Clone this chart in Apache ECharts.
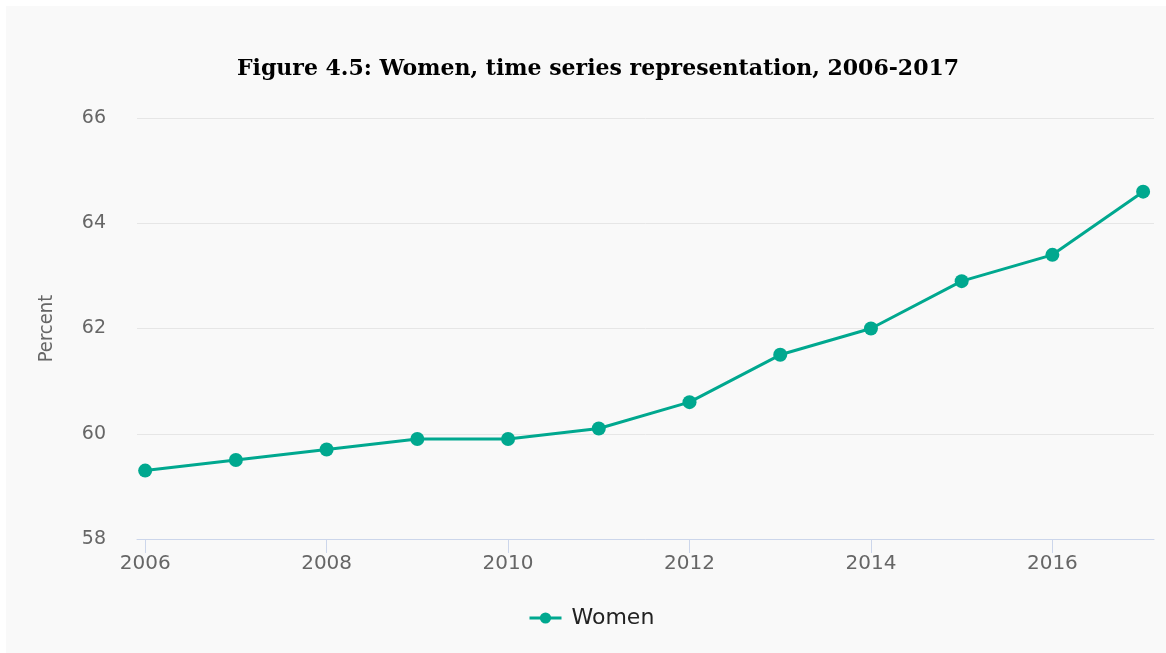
<!DOCTYPE html>
<html lang="en">
<head>
    <meta charset="utf-8">
    <title>Figure 4.5</title>
    <script src="https://cdn.jsdelivr.net/npm/echarts@6/dist/echarts.min.js"></script>
    <style>
        body { margin: 0; background: #ffffff; }
        #main { position: absolute; left: 6px; top: 6px; width: 1160px; height: 647px; }
    </style>
</head>
<body>
<div id="main"></div>

<script type="text/javascript">
    // data
    var years = [2006, 2007, 2008, 2009, 2010, 2011, 2012, 2013, 2014, 2015, 2016, 2017];
    var women = [59.3, 59.5, 59.7, 59.9, 59.9, 60.1, 60.6, 61.5, 62.0, 62.9, 63.4, 64.6];
    var xTicks = [2006, 2008, 2010, 2012, 2014, 2016];

    var points = [];
    for (var i = 0; i < years.length; i++) {
        points.push([years[i], women[i]]);
    }

    var myChart = echarts.init(document.getElementById('main'));

    var option = {
        backgroundColor: '#f9f9f9',
        animation: false,
        title: {
            text: 'Figure 4.5: Women, time series representation, 2006-2017',
            left: 587,
            textAlign: 'center',
            top: 47,
            textStyle: {
                fontFamily: 'DejaVu Serif',
                fontWeight: 'bold',
                fontSize: 22,
                color: '#000000'
            }
        },
        legend: {
            data: ['Women'],
            left: 517,
            top: 596,
            itemWidth: 32,
            itemHeight: 14,
            itemGap: 10,
            lineStyle: { width: 3 },
            textStyle: {
                fontFamily: 'DejaVu Sans',
                fontSize: 22,
                color: '#222222',
                padding: [0, 0, 0, 5]
            }
        },
        grid: {
            left: 131,
            right: 12,
            top: 112,
            bottom: 114
        },
        xAxis: {
            type: 'value',
            min: 2005.91,
            max: 2017.12,
            splitLine: { show: false },
            axisLine: { lineStyle: { color: '#ccd6eb', width: 1 } },
            axisTick: {
                show: true,
                length: 14,
                customValues: xTicks,
                lineStyle: { color: '#ccd6eb' }
            },
            axisLabel: {
                customValues: xTicks,
                margin: 15,
                fontFamily: 'DejaVu Sans',
                fontSize: 20,
                color: '#666666',
                formatter: function (v) { return String(v); }
            }
        },
        yAxis: {
            type: 'value',
            min: 58,
            max: 66,
            interval: 2,
            name: 'Percent',
            nameLocation: 'middle',
            nameGap: 80,
            nameTextStyle: {
                fontFamily: "'DejaVu Sans Condensed', 'Liberation Sans Narrow', 'DejaVu Sans', sans-serif",
                fontSize: 20,
                color: '#666666'
            },
            axisLine: { show: false },
            axisTick: { show: false },
            splitLine: { lineStyle: { color: '#e6e6e6', width: 1 } },
            axisLabel: {
                margin: 31,
                fontFamily: 'DejaVu Sans',
                fontSize: 19,
                color: '#666666'
            }
        },
        series: [{
            name: 'Women',
            type: 'line',
            data: points,
            symbol: 'circle',
            symbolSize: 14,
            color: '#00a88f',
            lineStyle: { width: 3, color: '#00a88f' },
            itemStyle: { color: '#00a88f' }
        }]
    };

    myChart.setOption(option);
</script>
</body>
</html>
